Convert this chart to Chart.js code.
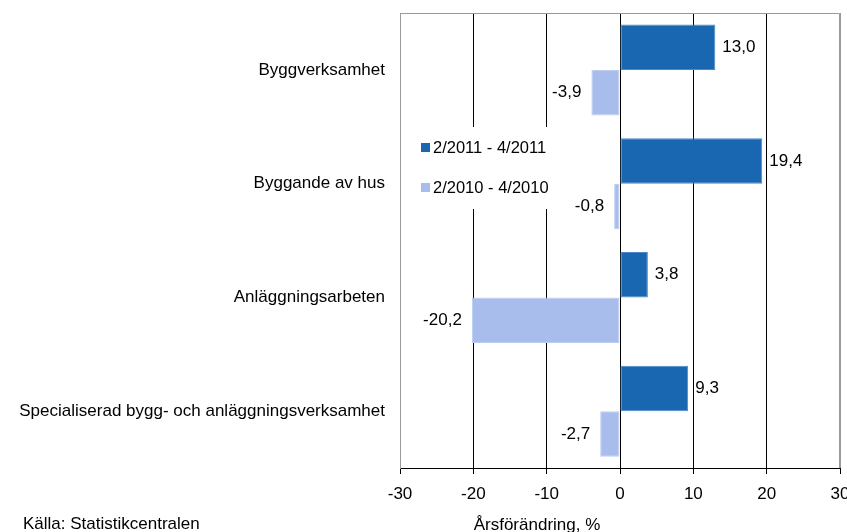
<!DOCTYPE html>
<html>
<head>
<meta charset="utf-8">
<script src="https://cdn.jsdelivr.net/npm/chart.js@4.4.0/dist/chart.umd.min.js"></script>
<style>
  html, body { margin: 0; padding: 0; background: #ffffff; }
  #wrap { width: 847px; height: 532px; }
</style>
</head>
<body>
<div id="wrap"><canvas id="myBarGraph" width="847" height="532"></canvas></div>
<script>
var categories = [
  "Byggverksamhet",
  "Byggande av hus",
  "Anläggningsarbeten",
  "Specialiserad bygg- och anläggningsverksamhet"
];
var seriesNames = ["2/2011 - 4/2011", "2/2010 - 4/2010"];
var values2011 = [13.0, 19.4, 3.8, 9.3];
var values2010 = [-3.9, -0.8, -20.2, -2.7];
var xTicks = [-30, -20, -10, 0, 10, 20, 30];

var FONT = "'Liberation Sans', Arial, sans-serif";
var darkBlue = "#1967b0";
var lightBlue = "#a8bdeb";

// white legend box inside the plot, drawn over the grid lines
var legendInside = {
  id: "legendInside",
  beforeDatasetsDraw: function (chart) {
    var c = chart.ctx;
    c.save();
    c.fillStyle = "#ffffff";
    c.fillRect(401, 127, 156, 82);
    c.font = "16.5px " + FONT;
    c.textBaseline = "middle";
    c.textAlign = "left";
    chart.data.datasets.forEach(function (ds, i) {
      var y = 148 + i * 40;
      c.fillStyle = ds.backgroundColor;
      c.fillRect(421, y - 5, 9, 9);
      c.fillStyle = "#000000";
      c.fillText(ds.label, 433, y);
    });
    c.restore();
  }
};

// value labels next to the bars, with comma decimals
var barLabels = {
  id: "barLabels",
  afterDatasetsDraw: function (chart) {
    var c = chart.ctx;
    c.save();
    c.font = "17px " + FONT;
    c.fillStyle = "#000000";
    c.textBaseline = "middle";
    chart.data.datasets.forEach(function (ds, i) {
      chart.getDatasetMeta(i).data.forEach(function (bar, j) {
        var v = ds.data[j];
        var txt = v.toFixed(1).replace(".", ",");
        if (v >= 0) {
          c.textAlign = "left";
          c.fillText(txt, bar.x + 7, bar.y);
        } else {
          c.textAlign = "right";
          c.fillText(txt, bar.x - 10, bar.y);
        }
      });
    });
    c.restore();
  }
};

// frame, axis title and source
var frameAndText = {
  id: "frameAndText",
  afterDraw: function (chart) {
    var a = chart.chartArea;
    var c = chart.ctx;
    c.save();
    c.strokeStyle = "#9a9a9a";
    c.lineWidth = 1;
    c.beginPath();
    c.moveTo(a.left + 0.5, a.bottom);
    c.lineTo(a.left + 0.5, a.top + 0.5);
    c.lineTo(a.right - 0.5, a.top + 0.5);
    c.lineTo(a.right - 0.5, a.bottom);
    c.stroke();
    c.fillStyle = "#000000";
    c.font = "17px " + FONT;
    c.textBaseline = "alphabetic";
    c.textAlign = "left";
    c.fillText("Källa: Statistikcentralen", 23, 529);
    c.textAlign = "center";
    c.fillText("Årsförändring, %", 537, 530);
    c.restore();
  }
};

var ctx = document.getElementById("myBarGraph").getContext("2d");

var myBarGraph = new Chart(ctx, {
  type: "bar",
  data: {
    labels: categories,
    datasets: [
      {
        label: seriesNames[0],
        data: values2011,
        backgroundColor: darkBlue,
        borderColor: "#4f86c8",
        borderWidth: 1,
        borderSkipped: false
      },
      {
        label: seriesNames[1],
        data: values2010,
        backgroundColor: lightBlue,
        borderColor: "#bccdf1",
        borderWidth: 1,
        borderSkipped: false
      }
    ]
  },
  options: {
    indexAxis: "y",
    responsive: false,
    animation: false,
    layout: {
      padding: { top: 13, right: 7, left: 0, bottom: 0 }
    },
    plugins: {
      legend: { display: false },
      tooltip: { enabled: false }
    },
    datasets: {
      bar: {
        categoryPercentage: 0.8,
        barPercentage: 1.0
      }
    },
    scales: {
      x: {
        min: -30,
        max: 30,
        afterBuildTicks: function (scale) {
          scale.ticks = xTicks.map(function (v) { return { value: v }; });
        },
        afterFit: function (scale) {
          scale.height = 64;
          scale.paddingLeft = 0;
          scale.paddingRight = 0;
        },
        grid: {
          color: function (c) {
            var v = c.tick ? c.tick.value : 0;
            return (v === -30 || v === 30) ? "#9a9a9a" : "#000000";
          },
          tickColor: "#000000",
          tickLength: 6,
          lineWidth: 1
        },
        border: { display: true, color: "#000000", width: 1 },
        ticks: {
          color: "#000000",
          padding: 10,
          font: { family: FONT, size: 17 }
        }
      },
      y: {
        afterFit: function (scale) {
          scale.width = 400;
          scale.paddingTop = 0;
          scale.paddingBottom = 0;
        },
        grid: { display: false, drawTicks: false },
        border: { display: true, color: "#9a9a9a" },
        ticks: {
          color: "#000000",
          padding: 15,
          font: { family: FONT, size: 17 }
        }
      }
    }
  },
  plugins: [legendInside, barLabels, frameAndText]
});
</script>
</body>
</html>
